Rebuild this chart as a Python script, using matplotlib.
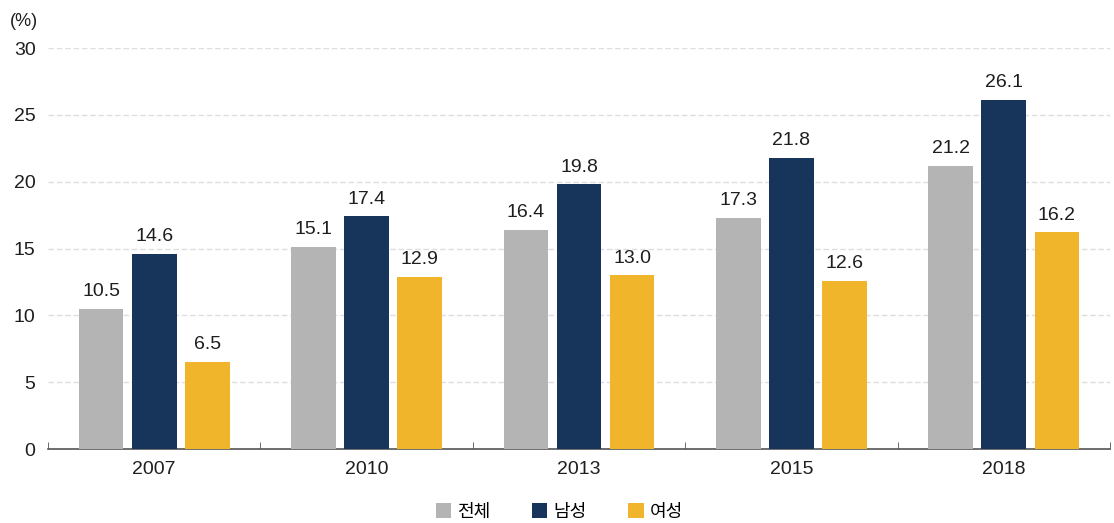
import matplotlib

matplotlib.use("Agg")
import matplotlib.pyplot as plt
import numpy as np

years = ["2007", "2010", "2013", "2015", "2018"]
series = ["전체", "남성", "여성"]
total = [10.5, 15.1, 16.4, 17.3, 21.2]
male = [14.6, 17.4, 19.8, 21.8, 26.1]
female = [6.5, 12.9, 13.0, 12.6, 16.2]
yticks = [0, 5, 10, 15, 20, 25, 30]

GRAY = "#b4b4b4"
NAVY = "#17345a"
GOLD = "#f0b52a"
TEXT = "#1e1e1e"

plt.rcParams["font.family"] = ["Liberation Sans", "Noto Sans CJK KR"]

fig = plt.figure(figsize=(11.14, 5.23), dpi=100)
ax = fig.add_axes([48 / 1114, 74 / 523, 1062 / 1114, 401 / 523])

x = np.arange(len(years))
width = 0.21
step = 0.25
for i, (vals, color) in enumerate(zip((total, male, female), (GRAY, NAVY, GOLD))):
    pos = x + (i - 1) * step
    ax.bar(pos, vals, width, color=color, label=series[i], zorder=3)
    for p, v in zip(pos, vals):
        ax.text(p, v + 0.65, f"{v:.1f}", ha="center", va="bottom",
                fontsize=14, color=TEXT, zorder=4)

ax.set_xlim(-0.5, len(years) - 0.5)
ax.set_ylim(0, 30)
ax.set_yticks(yticks)
ax.set_yticklabels([str(t) for t in yticks], fontsize=14, color=TEXT)
ax.set_xticks(x)
ax.set_xticklabels(years, fontsize=14, color=TEXT)
ax.tick_params(axis="x", length=0, pad=9)
ax.tick_params(axis="y", length=0, pad=9)
ax.set_xticks(np.arange(len(years) + 1) - 0.5, minor=True)
ax.tick_params(axis="x", which="minor", direction="in", length=5, color="#555555")

ax.yaxis.grid(True, color="#dedede", ls=(0, (4, 2)), lw=1, zorder=0)
for s in ("left", "right", "top"):
    ax.spines[s].set_visible(False)
ax.spines["bottom"].set_color("#555555")
ax.spines["bottom"].set_linewidth(1.2)

fig.text(10 / 1114, 1 - 22 / 523, "(%)", fontsize=13, color=TEXT, va="center")

ax.legend(loc="center", bbox_to_anchor=(0.4816, -0.157), ncol=3, frameon=False,
          fontsize=13, handlelength=0.85, handleheight=0.85, columnspacing=2.3,
          handletextpad=0.35)

fig.savefig("out.png", dpi=100)
